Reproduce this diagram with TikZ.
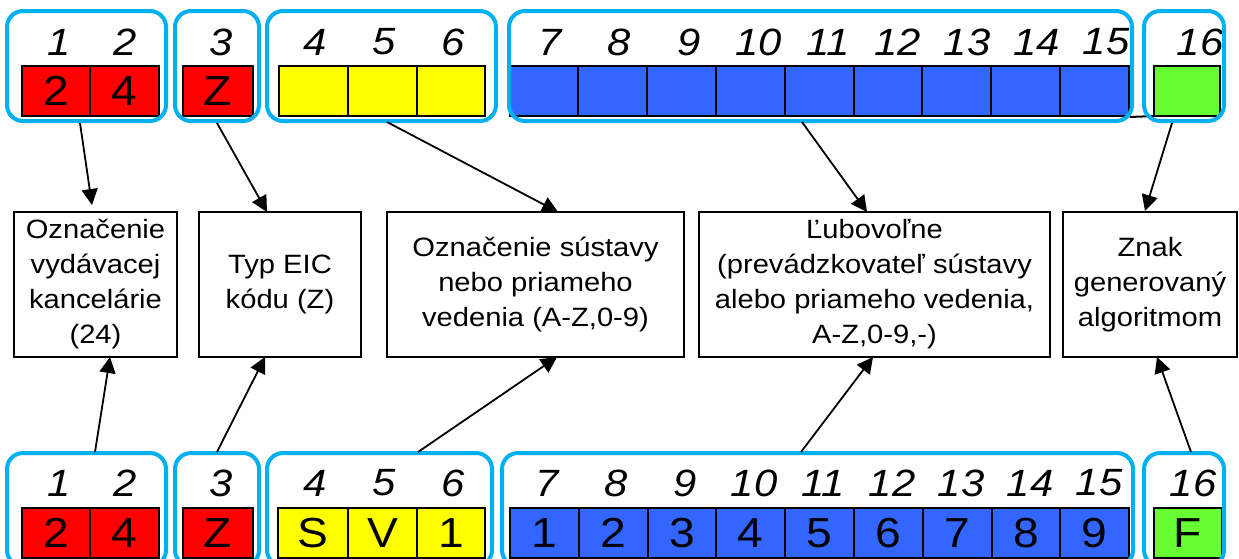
\documentclass[tikz,border=0pt]{standalone}
\usepackage{fontspec}
\setmainfont{Liberation Sans}[FakeStretch=1.1]
\usetikzlibrary{arrows.meta}
\definecolor{grpcyan}{HTML}{00B0F0}
\definecolor{cred}{HTML}{FF0000}
\definecolor{cyel}{HTML}{FFFF00}
\definecolor{cblue}{HTML}{3366FF}
\definecolor{cgreen}{HTML}{66FF33}
\tikzset{
  grp/.style={draw=grpcyan, line width=4pt, rounded corners=16pt},
  cellbox/.style={draw=black, line width=2pt, minimum height=50pt, inner sep=0pt,
    font=\fontsize{42}{46}\selectfont},
  idx/.style={font=\fontsize{38}{42}\selectfont\itshape, inner sep=0pt},
  infobox/.style={draw=black, line width=2pt, align=center,
    font=\fontsize{26.5}{35}\selectfont, minimum height=145pt, inner sep=0pt},
  arr/.style={-{Triangle[length=16pt,width=16pt]}, line width=1.8pt},
}
\begin{document}
\begin{tikzpicture}[x=1pt,y=-1pt]
\useasboundingbox (0,0) rectangle (1239,558);
\clip (0,0) rectangle (1239,558);
\fill[white] (0,0) rectangle (1239,558);

% ---------- top row ----------
\node[cellbox, fill=cred, minimum width=68pt] (tc1) at (56,91) {2};
\node[cellbox, fill=cred, minimum width=69pt] (tc2) at (124.5,91) {4};
\node[cellbox, fill=cred, minimum width=70pt] (tc3) at (218,91) {Z};
\node[cellbox, fill=cyel, minimum width=69pt] (tc4) at (313,91) {};
\node[cellbox, fill=cyel, minimum width=69pt] (tc5) at (382,91) {};
\node[cellbox, fill=cyel, minimum width=68pt] (tc6) at (451,91) {};
\foreach \k in {0,...,8} {
  \node[cellbox, fill=cblue, minimum width=68.8pt] (tb\k) at ({543.9+68.8*\k},91) {};
}
\draw[line width=2pt] (tb8.south east) -- (1154,116);
\node[cellbox, fill=cgreen, minimum width=66pt] (tc16) at (1187,91) {};

\node[idx] (tl1) at (59,42) {1};
\node[idx] (tl2) at (125,42) {2};
\node[idx] (tl3) at (221,42) {3};
\node[idx] (tl4) at (315,42) {4};
\node[idx] (tl5) at (384,42) {5};
\node[idx] (tl6) at (453,42) {6};
\foreach \k in {0,...,8} {
  \node[idx] (tlb\k) at ({550+69.5*\k},42) {\the\numexpr\k+7\relax};
}
\node[idx] (tl16) at (1200,42) {16};

\draw[grp] (7,11) rectangle (166,121);
\draw[grp] (175,11) rectangle (259,121);
\draw[grp] (267,11) rectangle (496,121);
\draw[grp] (509,11) rectangle (1132,121);
\draw[grp] (1144,11) rectangle (1224,121);

% ---------- middle boxes ----------
\node[infobox, minimum width=163pt] (boxA) at (95.5,284.5) {Označenie\\vydávacej\\kancelárie\\(24)};
\node[infobox, minimum width=162pt] (boxB) at (280,284.5) {Typ EIC\\kódu (Z)};
\node[infobox, minimum width=297pt] (boxC) at (535.5,284.5) {Označenie sústavy\\nebo priameho\\vedenia (A-Z,0-9)};
\node[infobox, minimum width=351pt] (boxD) at (874.5,284.5) {Ľubovoľne\\(prevádzkovateľ sústavy\\alebo priameho vedenia,\\A-Z,0-9,-)};
\node[infobox, minimum width=174pt] (boxE) at (1150,284.5) {Znak\\generovaný\\algoritmom};

% ---------- bottom row ----------
\node[cellbox, fill=cred, minimum width=68pt] (bc1) at (56,533) {2};
\node[cellbox, fill=cred, minimum width=69pt] (bc2) at (124.5,533) {4};
\node[cellbox, fill=cred, minimum width=70pt] (bc3) at (218,533) {Z};
\node[cellbox, fill=cyel, minimum width=70pt] (bc4) at (313,533) {S};
\node[cellbox, fill=cyel, minimum width=69pt] (bc5) at (382.5,533) {V};
\node[cellbox, fill=cyel, minimum width=68pt] (bc6) at (451,533) {1};
\foreach \k in {0,...,8} {
  \node[cellbox, fill=cblue, minimum width=68.8pt] (bb\k) at ({544.4+68.8*\k},533) {\the\numexpr\k+1\relax};
}
\node[cellbox, fill=cgreen, minimum width=68pt] (bc16) at (1188,533) {F};

\node[idx] (bl1) at (59,483) {1};
\node[idx] (bl2) at (125,483) {2};
\node[idx] (bl3) at (221,483) {3};
\node[idx] (bl4) at (315,483) {4};
\node[idx] (bl5) at (384,483) {5};
\node[idx] (bl6) at (453,483) {6};
\foreach \k in {0,...,8} {
  \node[idx] (blb\k) at ({547+69*\k},483) {\the\numexpr\k+7\relax};
}
\node[idx] (bl16) at (1193,483) {16};

\draw[grp] (7,453) rectangle (166,566);
\draw[grp] (175,453) rectangle (259,566);
\draw[grp] (267,453) rectangle (492,566);
\draw[grp] (502,453) rectangle (1133,566);
\draw[grp] (1144,453) rectangle (1224,566);

% ---------- connector end points ----------
\coordinate (ts1) at (80,123);
\coordinate (ts2) at (217,123);
\coordinate (ts3) at (387,122);
\coordinate (ts4) at (802,122);
\coordinate (ts5) at (1172,123);
\coordinate (te1) at (92,205);
\coordinate (te2) at (267,212);
\coordinate (te3) at (558,212);
\coordinate (te4) at (867,212);
\coordinate (te5) at (1145,211);

\coordinate (bs1) at (95,452);
\coordinate (bs2) at (217,452);
\coordinate (bs3) at (418,452);
\coordinate (bs4) at (801,452);
\coordinate (bs5) at (1191,452);
\coordinate (be1) at (110,357);
\coordinate (be2) at (265,357);
\coordinate (be3) at (557,357);
\coordinate (be4) at (873,357);
\coordinate (be5) at (1157,357);

\foreach \i in {1,...,5} {
  \draw[arr] (ts\i) -- (te\i);
  \draw[arr] (bs\i) -- (be\i);
}
\end{tikzpicture}
\end{document}
